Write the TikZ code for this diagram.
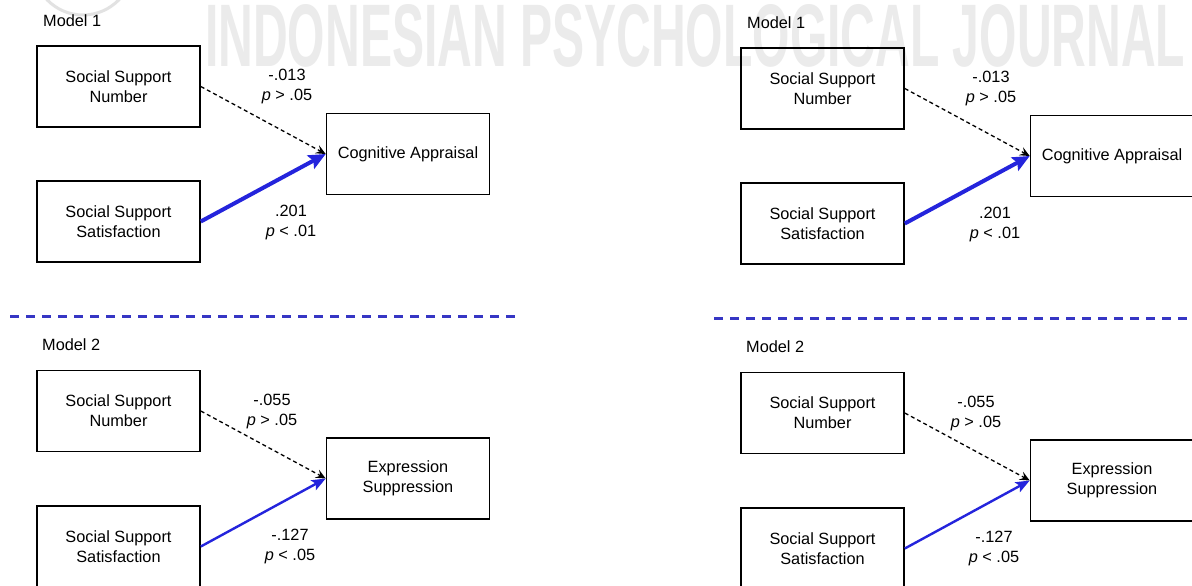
\documentclass[tikz,border=0pt]{standalone}
\usepackage{fontspec}
\setmainfont{Liberation Sans}
\usetikzlibrary{arrows.meta}
\definecolor{arrowblue}{HTML}{2424DC}
\definecolor{sepblue}{HTML}{3636C4}
\definecolor{wmgray}{HTML}{EBEBEB}
\definecolor{logogray}{HTML}{E2E2E2}

\newcommand\mypanel[4]{%
\begin{scope}[shift={(#2,#3)}, name prefix=#1-]
  \node[titlelbl] (t1) at (43,21) {Model 1};
  \node[box] (ssn) at (118.5,86.5) {Social Support\\Number};
  \node[box] (ca) at (408,154) {Cognitive Appraisal};
  \node[box] (sss) at (118.5,221.5) {Social Support\\Satisfaction};
  \node[lbl] (l1) at (287,87) {-.013\\\textit{p} > .05};
  \node[lbl] (l2) at (291,222) {.201\\\textit{p} < .01};
  \draw[nsarrow] (ssn.east) -- (ca.west);
  \draw[sigthick] (sss.east) -- (ca.west);
  \coordinate (sepa) at (10,316);
  \coordinate (sepb) at (#4,316);
  \draw[sepline] (sepa) -- (sepb);
  \node[titlelbl] (t2) at (42,345) {Model 2};
  \node[box] (ssn2) at (118.5,411) {Social Support\\Number};
  \node[box] (es) at (408,478.5) {Expression\\Suppression};
  \node[box] (sss2) at (118.5,546.5) {Social Support\\Satisfaction};
  \node[lbl] (l3) at (272,411) {-.055\\\textit{p} > .05};
  \node[lbl] (l4) at (290,546) {-.127\\\textit{p} < .05};
  \draw[nsarrow] (ssn2.east) -- (es.west);
  \draw[sigthin] (sss2.east) -- (es.west);
\end{scope}}

\begin{document}
\begin{tikzpicture}[x=1pt,y=-1pt,
  box/.style={draw, line width=1.6pt, minimum width=163pt, minimum height=81pt,
    inner sep=0pt, align=center, font=\fontsize{16.3}{20}\selectfont},
  lbl/.style={align=center, inner sep=0pt, font=\fontsize{16.3}{20}\selectfont},
  titlelbl/.style={anchor=west, inner sep=0pt, font=\fontsize{16.3}{20}\selectfont},
  nsarrow/.style={line width=1.3pt, dash pattern=on 4pt off 3pt,
    -{Stealth[length=10pt,width=9pt,inset=4pt]}},
  sigthick/.style={draw=arrowblue, line width=4pt,
    -{Stealth[length=17pt,width=15pt,inset=3pt]}},
  sigthin/.style={draw=arrowblue, line width=2.4pt,
    -{Stealth[length=14pt,width=11pt,inset=3pt]}},
  sepline/.style={draw=sepblue, line width=3pt, dash pattern=on 9pt off 7pt},
  watermark/.style={anchor=north west, inner sep=0pt, text=wmgray}
]
\clip (0,0) rectangle (1192,586);
\fill[white] (0,0) rectangle (1192,586);
\draw[logogray, line width=3pt] (83,-35) circle (50);
\node[watermark] (wm) at (205,4)
  {\resizebox{980pt}{62pt}{\bfseries INDONESIAN PSYCHOLOGICAL JOURNAL}};
\mypanel{L}{0}{0}{520}
\mypanel{R}{704}{2}{520}
\end{tikzpicture}
\end{document}
